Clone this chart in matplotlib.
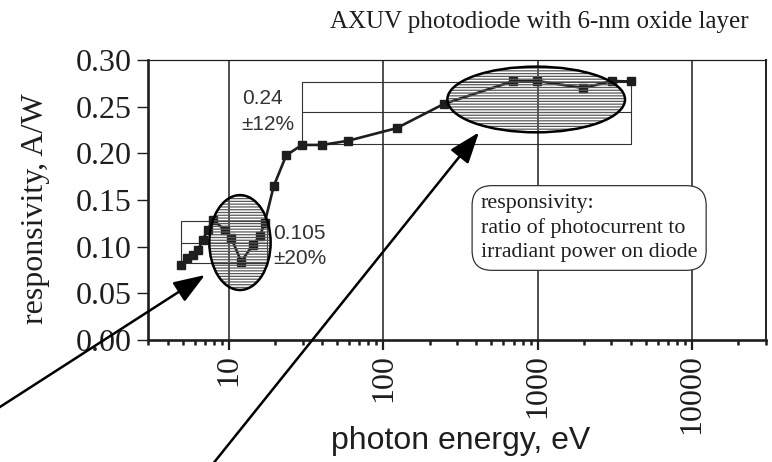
import matplotlib
matplotlib.use('Agg')
import matplotlib.pyplot as plt
from matplotlib.patches import Ellipse

# measured responsivity of the AXUV diode
energy_ev = [4.87, 5.31, 5.81, 6.30, 6.74, 7.27, 7.86, 9.36, 10.35, 12.0,
             14.3, 15.8, 17.0, 19.5, 23.5, 29.7, 40.1, 59.2, 122, 247,
             697, 996, 1980, 3030, 4020]
responsivity = [0.080, 0.0875, 0.091, 0.096, 0.107, 0.118, 0.129, 0.118,
                0.109, 0.084, 0.102, 0.111, 0.125, 0.165, 0.198, 0.209,
                0.209, 0.2135, 0.227, 0.253, 0.2775, 0.2775, 0.270, 0.2775,
                0.277]

# spread boxes (low, mid, high) and their energy range
low_box_ev = [4.87, 17.5]
low_box_resp = [0.082, 0.104, 0.127]
low_box_label = '0.105\n±20%'
high_box_ev = [29.7, 4020]
high_box_resp = [0.210, 0.244, 0.276]
high_box_label = '0.24\n±12%'

x_ticks = [10, 100, 1000, 10000]
y_ticks = [0.00, 0.05, 0.10, 0.15, 0.20, 0.25, 0.30]

serif = ['Liberation Serif', 'DejaVu Serif']
sans = ['Liberation Sans', 'DejaVu Sans']
ink = '#1e1e1e'

plt.rcParams['hatch.linewidth'] = 0.9

fig = plt.figure(figsize=(7.72, 4.62), dpi=100)
ax = fig.add_axes([0.1921, 0.2641, 0.7997, 0.6060])

ax.set_xscale('log')
ax.set_xlim(3, 30000)
ax.set_ylim(0, 0.30)

# vertical grid at the decades
for xv in x_ticks:
    ax.axvline(xv, color=ink, lw=1.1, zorder=1)

# spread boxes
for bx, by in [(low_box_ev, low_box_resp), (high_box_ev, high_box_resp)]:
    ax.plot([bx[0], bx[1], bx[1], bx[0], bx[0]],
            [by[0], by[0], by[2], by[2], by[0]],
            color='#333333', lw=0.8, zorder=2)
    ax.hlines(by[1], bx[0], bx[1], color='#333333', lw=0.8, zorder=2)

# the data
ax.plot(energy_ev, responsivity, color=ink, lw=1.9, marker='s',
        markersize=5.2, zorder=3)

# hatched ellipses over the two regions
for cx, cy, w, h in [(0.1485, 0.348, 0.0993, 0.339),
                     (0.6283, 0.859, 0.2878, 0.2346)]:
    ax.add_patch(Ellipse((cx, cy), w, h, transform=ax.transAxes,
                         facecolor='none', edgecolor='#5a5a5a', lw=0,
                         hatch='------', zorder=4))
    ax.add_patch(Ellipse((cx, cy), w, h, transform=ax.transAxes,
                         facecolor='none', edgecolor='black', lw=1.8,
                         zorder=5))

# box labels
ax.text(0.1513, 0.817, high_box_label, transform=ax.transAxes,
        family=sans, fontsize=15, color='#333333', va='center',
        linespacing=1.45)
ax.text(0.2025, 0.336, low_box_label, transform=ax.transAxes,
        family=sans, fontsize=15, color='#333333', va='center',
        linespacing=1.4)

# definition box
ax.text(0.5387, 0.40,
        'responsivity:\nratio of photocurrent to\nirradiant power on diode',
        transform=ax.transAxes, family=serif, fontsize=15.8, color=ink,
        va='center', ha='left', linespacing=1.32, zorder=6,
        bbox=dict(boxstyle='round,pad=0.4,rounding_size=0.9',
                  facecolor='white', edgecolor='#333333', lw=0.9))

# axes styling
ax.set_xticks(x_ticks)
ax.set_xticklabels([str(v) for v in x_ticks], rotation=90, family=serif,
                   fontsize=23, color=ink)
ax.set_yticks(y_ticks)
ax.set_yticklabels([f'{v:.2f}' for v in y_ticks], family=serif,
                   fontsize=23, color=ink)
ax.tick_params(axis='x', which='major', direction='out', length=7,
               width=1.6, pad=3, color=ink)
ax.tick_params(axis='x', which='minor', direction='out', length=3.5,
               width=1.8, color=ink, labelbottom=False)
ax.tick_params(axis='y', direction='out', length=8, width=1.0, pad=4,
               color=ink)

ax.spines['left'].set_linewidth(1.9)
ax.spines['bottom'].set_linewidth(1.9)
ax.spines['top'].set_linewidth(0.9)
ax.spines['right'].set_linewidth(1.4)
for s in ax.spines.values():
    s.set_color(ink)

fig.text(0.698, 0.952, 'AXUV photodiode with 6-nm oxide layer',
         family=serif, fontsize=18, color=ink, ha='center', va='center')
fig.text(0.0466, 0.5476, 'responsivity, A/W', family=serif, fontsize=23,
         color=ink, rotation=90, ha='center', va='center')
fig.text(0.597, 0.045, 'photon energy, eV', family=sans, fontsize=23,
         color=ink, ha='center', va='center')

# long pointer arrows starting outside the axes
arrow = dict(arrowstyle='-|>,head_length=0.55,head_width=0.2',
             color='black', lw=1.8, mutation_scale=35, shrinkA=0, shrinkB=0)
ax.annotate('', xy=(205, 187), xycoords='figure pixels',
            xytext=(-4, 52.5), textcoords='figure pixels',
            arrowprops=arrow, annotation_clip=False)
ax.annotate('', xy=(479, 329.7), xycoords='figure pixels',
            xytext=(212, -3), textcoords='figure pixels',
            arrowprops=arrow, annotation_clip=False)

fig.savefig('out.png', dpi=100)
